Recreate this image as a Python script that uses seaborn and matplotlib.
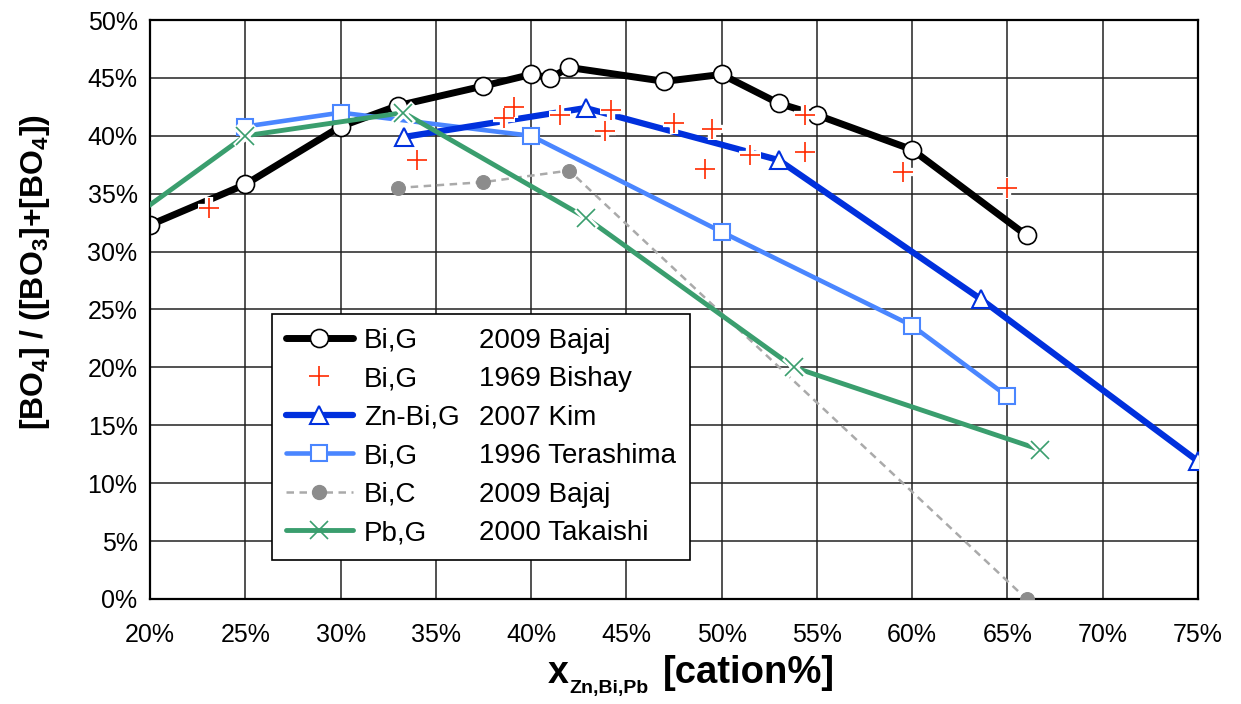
import matplotlib
matplotlib.use("Agg")
import matplotlib.pyplot as plt
from matplotlib.lines import Line2D
from matplotlib.ticker import FuncFormatter
import seaborn as sns

# ---------------- data (cation %, fraction of BO4 in %) ----------------
bajaj_g_x = [20, 25, 30, 33, 37.5, 40, 41, 42, 47, 50, 53, 55, 60, 66]
bajaj_g_y = [32.3, 35.8, 40.8, 42.6, 44.3, 45.3, 45.0, 45.9, 44.7, 45.3, 42.8, 41.8, 38.8, 31.4]

bishay_x = [23.1, 34.0, 38.6, 39.1, 41.5, 43.9, 44.2, 47.5, 49.1, 49.5, 51.5, 54.4, 54.4, 59.5, 65.0]
bishay_y = [33.8, 37.9, 41.5, 42.5, 41.8, 40.4, 42.2, 41.1, 37.1, 40.6, 38.3, 41.8, 38.6, 36.9, 35.5]

kim_x = [33.33, 42.86, 53.0, 63.6, 75.0]
kim_y = [39.9, 42.4, 37.9, 25.9, 11.9]

terashima_x = [25, 30, 40, 50, 60, 65]
terashima_y = [40.8, 42.0, 40.0, 31.7, 23.6, 17.5]

bajaj_c_x = [33, 37.5, 42, 66]
bajaj_c_y = [35.5, 36.0, 37.0, 0.0]

takaishi_x = [16.7, 25, 33.3, 42.9, 53.8, 66.7]
takaishi_y = [30.1, 40.0, 42.0, 32.9, 20.0, 12.9]

legend_left = ["Bi,G", "Bi,G", "Zn-Bi,G", "Bi,G", "Bi,C", "Pb,G"]
legend_right = ["2009 Bajaj", "1969 Bishay", "2007 Kim", "1996 Terashima", "2009 Bajaj", "2000 Takaishi"]

x_ticks = list(range(20, 80, 5))
y_ticks = list(range(0, 55, 5))

# ---------------- style ----------------
sns.set_theme(style="white")
plt.rcParams["font.family"] = ["Liberation Sans", "DejaVu Sans"]
plt.rcParams["text.color"] = "black"
plt.rcParams["mathtext.fontset"] = "custom"
plt.rcParams["mathtext.rm"] = "Liberation Sans"
plt.rcParams["mathtext.it"] = "Liberation Sans:italic"
plt.rcParams["mathtext.bf"] = "Liberation Sans:bold"

C_BLACK = "#000000"
C_RED = "#ff2a00"
C_KIM = "#0030dd"
C_TERA = "#4a86ff"
C_GRAY_LINE = "#aaaaaa"
C_GRAY_DOT = "#8c8c8c"
C_GREEN = "#3a9e6e"

W, H = 1241, 704
fig = plt.figure(figsize=(W / 100, H / 100), dpi=100)
ax = fig.add_axes([0.1209, 0.14915, 0.84445, 0.82244])

common = dict(sort=False, estimator=None, ax=ax)

# Bajaj Bi,G
sns.lineplot(x=bajaj_g_x, y=bajaj_g_y, color=C_BLACK, lw=5, marker="o", ms=13,
             mfc="white", mec=C_BLACK, mew=1.2, zorder=2, **common)
# Terashima
sns.lineplot(x=terashima_x, y=terashima_y, color=C_TERA, lw=3.3, marker="s", ms=11,
             mfc="white", mec=C_TERA, mew=1.5, zorder=3, **common)
# Kim
sns.lineplot(x=kim_x, y=kim_y, color=C_KIM, lw=4.5, marker="^", ms=13,
             mfc="white", mec=C_KIM, mew=1.5, zorder=4, **common)
# Bajaj Bi,C
sns.lineplot(x=bajaj_c_x, y=bajaj_c_y, color=C_GRAY_LINE, lw=1.8, zorder=5, **common)
ax.lines[-1].set_dashes((3, 2.2))
sns.lineplot(x=bajaj_c_x, y=bajaj_c_y, color=C_GRAY_DOT, ls="none", marker="o", ms=10,
             mfc=C_GRAY_DOT, mec=C_GRAY_DOT, zorder=5.5, **common)
# Takaishi: line, white halo under the markers, markers
sns.lineplot(x=takaishi_x, y=takaishi_y, color=C_GREEN, lw=3.5, zorder=6, **common)
sns.lineplot(x=takaishi_x, y=takaishi_y, color="white", ls="none", marker="x", ms=15,
             mec="white", mew=5, zorder=6.3, **common)
sns.lineplot(x=takaishi_x, y=takaishi_y, color=C_GREEN, ls="none", marker="x", ms=13,
             mec=C_GREEN, mew=1.2, zorder=6.5, **common)
# Bishay: white halo, then red plus markers
sns.lineplot(x=bishay_x, y=bishay_y, color="white", ls="none", marker="+", ms=16,
             mec="white", mew=6, zorder=7, **common)
sns.lineplot(x=bishay_x, y=bishay_y, color=C_RED, ls="none", marker="+", ms=14,
             mec=C_RED, mew=1.2, zorder=7.5, **common)

# ---------------- axes ----------------
ax.set_xlim(20, 75)
ax.set_ylim(0, 50)
ax.set_xticks(x_ticks)
ax.set_yticks(y_ticks)
pct = FuncFormatter(lambda v, p: f"{v:.0f}%")
ax.xaxis.set_major_formatter(pct)
ax.yaxis.set_major_formatter(pct)
ax.grid(True, color="#222222", lw=1.1)
ax.set_axisbelow(True)
for s in ax.spines.values():
    s.set_color("black")
    s.set_linewidth(1.6)
ax.tick_params(axis="both", which="major", direction="out", length=6,
               width=1.5, color="black", labelsize=18, labelcolor="black")
ax.tick_params(axis="y", pad=3)
ax.tick_params(axis="x", pad=11)

# y label
ax.set_ylabel(r"[BO$_\mathbf{4}$] / ([BO$_\mathbf{3}$]+[BO$_\mathbf{4}$])",
              fontsize=23, fontweight="bold", color="black")
ax.yaxis.set_label_coords(-0.094, 0.565)

# x label built from pieces: big "x", small subscript, big "[cation%]"
base_y = 1 - 683 / H
fig.text(548 / W, base_y, "x", fontsize=27, fontweight="bold", va="baseline",
         ha="left", color="black")
fig.text(569 / W, 1 - 693 / H, "Zn,Bi,Pb", fontsize=14, fontweight="bold",
         va="baseline", ha="left", color="black")
fig.text(663 / W, base_y, "[cation%]", fontsize=27.5, fontweight="bold",
         va="baseline", ha="left", color="black")

# ---------------- legend ----------------
handles = [
    Line2D([], [], color=C_BLACK, lw=5, marker="o", ms=13, mfc="white", mec=C_BLACK, mew=1.2),
    Line2D([], [], color=C_RED, ls="none", marker="+", ms=14, mew=1.2),
    Line2D([], [], color=C_KIM, lw=4.5, marker="^", ms=13, mfc="white", mec=C_KIM, mew=1.5),
    Line2D([], [], color=C_TERA, lw=3.3, marker="s", ms=11, mfc="white", mec=C_TERA, mew=1.5),
    Line2D([], [], color=C_GRAY_LINE, lw=1.8, dashes=(3, 2.2), marker="o", ms=10,
           mfc=C_GRAY_DOT, mec=C_GRAY_DOT),
    Line2D([], [], color=C_GREEN, lw=3.5, marker="x", ms=13, mew=1.2),
]
blank = [Line2D([], [], ls="none") for _ in legend_right]
leg = ax.legend(handles + blank, legend_left + legend_right, ncol=2,
                loc="lower left", bbox_to_anchor=(0.1164, 0.0673),
                borderaxespad=0, fontsize=20, handlelength=2.4,
                handletextpad=0.4, columnspacing=-2.10, labelspacing=0.45,
                borderpad=0.5, frameon=True, fancybox=False, framealpha=1,
                edgecolor="black")
leg.get_frame().set_linewidth(1.2)
leg.set_zorder(10)
for t in leg.get_texts():
    t.set_color("black")

fig.savefig("out.png", dpi=100)
